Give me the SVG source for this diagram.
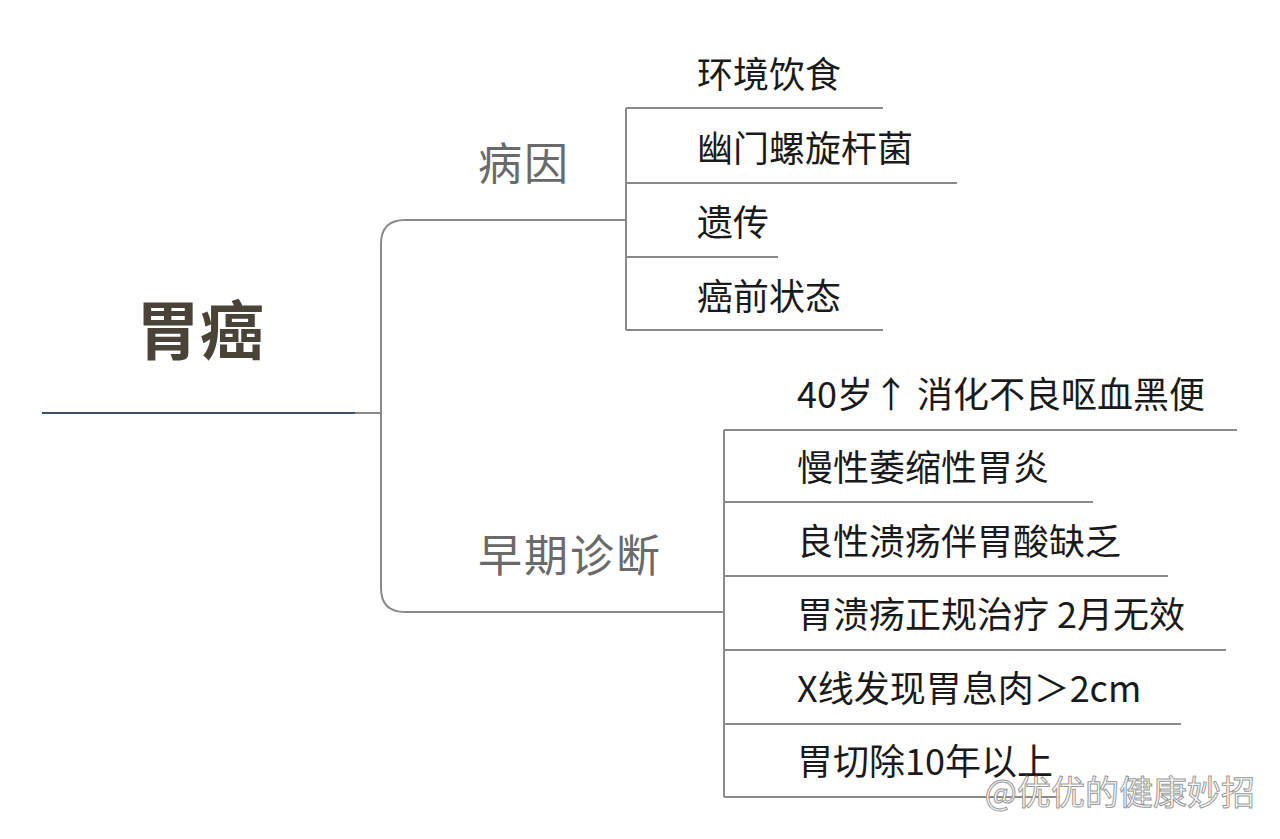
<svg xmlns="http://www.w3.org/2000/svg" width="1280" height="839" viewBox="0 0 1280 839">
<style>
.ln{stroke:#8a8a8a;stroke-width:2;fill:none}
.lf{font-family:"Noto Sans CJK SC","Liberation Sans",sans-serif;font-size:36px;fill:#1a1a1a}
.br{font-family:"Noto Sans CJK SC",sans-serif;font-size:44px;fill:#6a6a6a;letter-spacing:2px}
</style>
<rect width="1280" height="839" fill="#fff"/>
<g id="connectors">
<line x1="42" y1="413" x2="355" y2="413" stroke="#3a5070" stroke-width="2"/>
<path class="ln" d="M355 413H381M405 220H625M381 244V588Q381 612 405 612H725M381 244Q381 220 405 220"/>
<path class="ln" d="M626 108V330M626 108H883M626 183H957M626 257H778M626 330H883"/>
<path class="ln" d="M724 430V797M724 430H1237M724 502H1093M724 576H1168M724 650H1226M724 724H1181M724 797H1060"/>
</g>
<g id="root"><text x="200" y="354" text-anchor="middle" font-family="Noto Sans CJK SC,sans-serif" font-size="64" font-weight="bold" fill="#4a4438">胃癌</text></g>
<g id="b1"><text class="br" x="478" y="180">病因</text></g>
<g id="b2"><text class="br" x="478" y="572">早期诊断</text></g>
<g id="l1"><text class="lf" x="697" y="88">环境饮食</text></g>
<g id="l2"><text class="lf" x="697" y="162">幽门螺旋杆菌</text></g>
<g id="l3"><text class="lf" x="697" y="236">遗传</text></g>
<g id="l4"><text class="lf" x="697" y="310">癌前状态</text></g>
<g id="d1"><text class="lf" x="797" y="408">40岁↑ 消化不良呕血黑便</text></g>
<g id="d2"><text class="lf" x="797" y="481">慢性萎缩性胃炎</text></g>
<g id="d3"><text class="lf" x="797" y="555">良性溃疡伴胃酸缺乏</text></g>
<g id="d4"><text class="lf" x="797" y="628">胃溃疡正规治疗 2月无效</text></g>
<g id="d5"><text class="lf" x="797" y="702">X线发现胃息肉＞2cm</text></g>
<g id="d6"><text class="lf" x="797" y="775">胃切除10年以上</text></g>
<text x="1255" y="805" text-anchor="end" font-family="Noto Sans CJK SC,sans-serif" font-size="34" fill="#fff" stroke="#999" stroke-width="1">@优优的健康妙招</text>
</svg>
